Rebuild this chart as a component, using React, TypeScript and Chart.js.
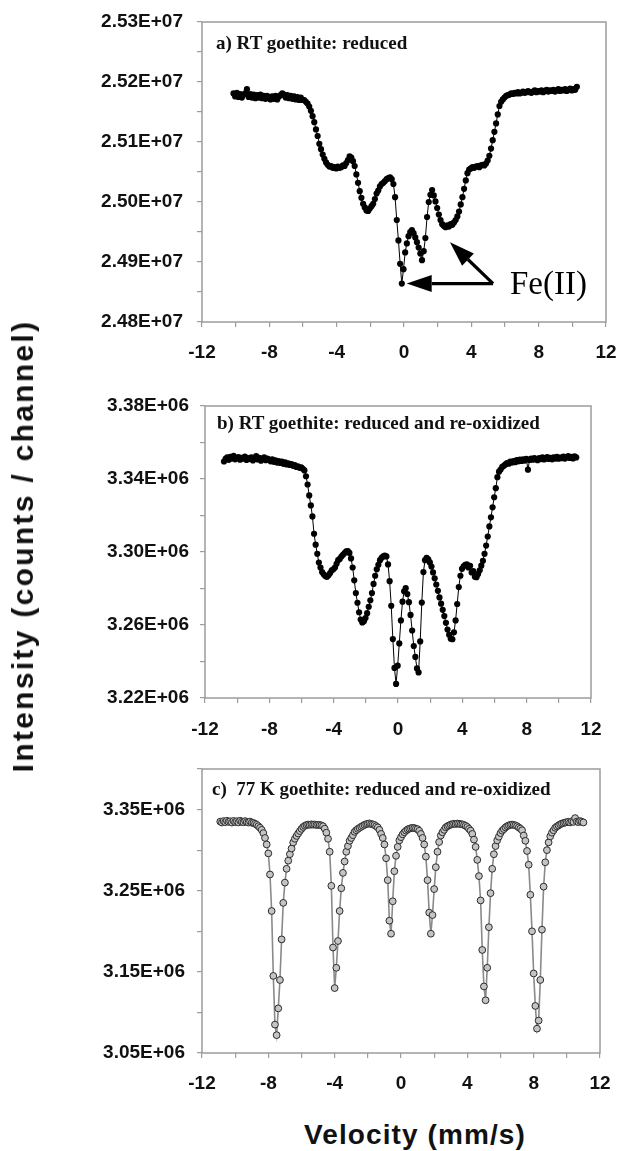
import React, { useEffect, useRef } from "react";
import { Chart, registerables } from "chart.js";

Chart.register(...registerables);

// ---------- Panel a) RT goethite: reduced  (intensity in units of 1E+07) ----------
const velocityA = [
  -10.13, -10.03, -9.93, -9.83, -9.73, -9.63, -9.53, -9.43, -9.33, -9.23,
  -9.13, -9.03, -8.93, -8.83, -8.73, -8.63, -8.53, -8.43, -8.33, -8.23,
  -8.13, -8.03, -7.93, -7.83, -7.73, -7.63, -7.53, -7.43, -7.33, -7.23,
  -7.13, -7.03, -6.93, -6.83, -6.73, -6.63, -6.53, -6.43, -6.33, -6.23,
  -6.13, -6.03, -5.93, -5.83, -5.73, -5.63, -5.53, -5.43, -5.33, -5.23,
  -5.13, -5.03, -4.93, -4.83, -4.73, -4.63, -4.53, -4.43, -4.33, -4.23,
  -4.13, -4.03, -3.93, -3.83, -3.73, -3.63, -3.53, -3.43, -3.33, -3.23,
  -3.13, -3.03, -2.93, -2.83, -2.73, -2.63, -2.53, -2.43, -2.33, -2.23,
  -2.13, -2.03, -1.93, -1.83, -1.73, -1.63, -1.53, -1.43, -1.33, -1.23,
  -1.13, -1.03, -0.93, -0.83, -0.73, -0.63, -0.53, -0.43, -0.33, -0.23,
  -0.13, -0.03, 0.07, 0.17, 0.27, 0.37, 0.47, 0.57, 0.67, 0.77,
  0.87, 0.97, 1.07, 1.17, 1.27, 1.37, 1.47, 1.57, 1.67, 1.77,
  1.87, 1.97, 2.07, 2.17, 2.27, 2.37, 2.47, 2.57, 2.67, 2.77,
  2.87, 2.97, 3.07, 3.17, 3.27, 3.37, 3.47, 3.57, 3.67, 3.77,
  3.87, 3.97, 4.07, 4.17, 4.27, 4.37, 4.47, 4.57, 4.67, 4.77,
  4.87, 4.97, 5.07, 5.17, 5.27, 5.37, 5.47, 5.57, 5.67, 5.77,
  5.87, 5.97, 6.07, 6.17, 6.27, 6.37, 6.47, 6.57, 6.67, 6.77,
  6.87, 6.97, 7.07, 7.17, 7.27, 7.37, 7.47, 7.57, 7.67, 7.77,
  7.87, 7.97, 8.07, 8.17, 8.27, 8.37, 8.47, 8.57, 8.67, 8.77,
  8.87, 8.97, 9.07, 9.17, 9.27, 9.37, 9.47, 9.57, 9.67, 9.77,
  9.87, 9.97, 10.07, 10.17, 10.27,
];
const intensityA = [
  2.5181, 2.5176, 2.5182, 2.5175, 2.5180, 2.5174, 2.5179, 2.5181, 2.5188, 2.5175,
  2.5180, 2.5174, 2.5179, 2.5173, 2.5178, 2.5174, 2.5179, 2.5173, 2.5177, 2.5172,
  2.5177, 2.5173, 2.5171, 2.5176, 2.5172, 2.5177, 2.5171, 2.5176, 2.5178, 2.5181,
  2.5179, 2.5174, 2.5178, 2.5173, 2.5177, 2.5172, 2.5176, 2.5171, 2.5175, 2.5170,
  2.5174, 2.5170, 2.5170, 2.5167, 2.5164, 2.5159, 2.5152, 2.5143, 2.5133, 2.5121,
  2.5110, 2.5097, 2.5088, 2.5079, 2.5072, 2.5066, 2.5062, 2.5059, 2.5060, 2.5057,
  2.5058, 2.5056, 2.5059, 2.5057, 2.5058, 2.5061, 2.5060, 2.5065, 2.5070, 2.5076,
  2.5074, 2.5068, 2.5060, 2.5046, 2.5032, 2.5018, 2.5007, 2.4997, 2.4991, 2.4986,
  2.4985, 2.4989, 2.4993, 2.4997, 2.5005, 2.5014, 2.5019, 2.5026, 2.5030, 2.5032,
  2.5035, 2.5038, 2.5040, 2.5041, 2.5038, 2.5030, 2.5008, 2.4970, 2.4936, 2.4897,
  2.4864, 2.4888, 2.4916, 2.4931, 2.4943, 2.4950, 2.4953, 2.4948, 2.4941, 2.4933,
  2.4924, 2.4914, 2.4903, 2.4918, 2.4940, 2.4975, 2.5000, 2.5012, 2.5020, 2.5011,
  2.5001, 2.4990, 2.4979, 2.4970, 2.4963, 2.4960, 2.4958, 2.4961, 2.4959, 2.4963,
  2.4962, 2.4966, 2.4970, 2.4976, 2.4984, 2.4996, 2.5008, 2.5022, 2.5036, 2.5048,
  2.5054, 2.5056, 2.5058, 2.5057, 2.5059, 2.5060, 2.5058, 2.5061, 2.5062, 2.5061,
  2.5064, 2.5069, 2.5077, 2.5089, 2.5103, 2.5117, 2.5131, 2.5146, 2.5160, 2.5167,
  2.5171, 2.5174, 2.5177, 2.5178, 2.5179, 2.5181, 2.5180, 2.5182, 2.5181, 2.5183,
  2.5181, 2.5182, 2.5184, 2.5182, 2.5183, 2.5185, 2.5183, 2.5182, 2.5184, 2.5186,
  2.5183, 2.5185, 2.5184, 2.5186, 2.5183, 2.5185, 2.5187, 2.5184, 2.5186, 2.5185,
  2.5187, 2.5184, 2.5186, 2.5188, 2.5185, 2.5187, 2.5186, 2.5188, 2.5185, 2.5187,
  2.5189, 2.5186, 2.5188, 2.5187, 2.5192,
];

// ---------- Panel b) RT goethite: reduced and re-oxidized (units of 1E+06) ----------
const velocityB = [
  -10.82, -10.72, -10.62, -10.52, -10.42, -10.32, -10.22, -10.12, -10.02, -9.92,
  -9.82, -9.72, -9.62, -9.52, -9.42, -9.32, -9.22, -9.12, -9.02, -8.92,
  -8.82, -8.72, -8.62, -8.52, -8.42, -8.32, -8.22, -8.12, -8.02, -7.92,
  -7.82, -7.72, -7.62, -7.52, -7.42, -7.32, -7.22, -7.12, -7.02, -6.92,
  -6.82, -6.72, -6.62, -6.52, -6.42, -6.32, -6.22, -6.12, -6.02, -5.92,
  -5.82, -5.72, -5.62, -5.52, -5.42, -5.32, -5.22, -5.12, -5.02, -4.92,
  -4.82, -4.72, -4.62, -4.52, -4.42, -4.32, -4.22, -4.12, -4.02, -3.92,
  -3.82, -3.72, -3.62, -3.52, -3.42, -3.32, -3.22, -3.12, -3.02, -2.92,
  -2.82, -2.72, -2.62, -2.52, -2.42, -2.32, -2.22, -2.12, -2.02, -1.92,
  -1.82, -1.72, -1.62, -1.52, -1.42, -1.32, -1.22, -1.12, -1.02, -0.92,
  -0.82, -0.72, -0.62, -0.52, -0.42, -0.32, -0.22, -0.12, -0.02, 0.08,
  0.18, 0.28, 0.38, 0.48, 0.58, 0.68, 0.78, 0.88, 0.98, 1.08,
  1.18, 1.28, 1.38, 1.48, 1.58, 1.68, 1.78, 1.88, 1.98, 2.08,
  2.18, 2.28, 2.38, 2.48, 2.58, 2.68, 2.78, 2.88, 2.98, 3.08,
  3.18, 3.28, 3.38, 3.48, 3.58, 3.68, 3.78, 3.88, 3.98, 4.08,
  4.18, 4.28, 4.38, 4.48, 4.58, 4.68, 4.78, 4.88, 4.98, 5.08,
  5.18, 5.28, 5.38, 5.48, 5.58, 5.68, 5.78, 5.88, 5.98, 6.08,
  6.18, 6.28, 6.38, 6.48, 6.58, 6.68, 6.78, 6.88, 6.98, 7.08,
  7.18, 7.28, 7.38, 7.48, 7.58, 7.68, 7.78, 7.88, 7.98, 8.08,
  8.18, 8.28, 8.38, 8.48, 8.58, 8.68, 8.78, 8.88, 8.98, 9.08,
  9.18, 9.28, 9.38, 9.48, 9.58, 9.68, 9.78, 9.88, 9.98, 10.08,
  10.18, 10.28, 10.38, 10.48, 10.58, 10.68, 10.78, 10.88, 10.98, 11.08,
];
const intensityB = [
  3.3496, 3.3510, 3.3518, 3.3505, 3.3522, 3.3512, 3.3527, 3.3508, 3.3515, 3.3520,
  3.3506, 3.3516, 3.3511, 3.3523, 3.3504, 3.3514, 3.3509, 3.3518, 3.3502, 3.3512,
  3.3525, 3.3507, 3.3516, 3.3500, 3.3511, 3.3519, 3.3503, 3.3512, 3.3506, 3.3497,
  3.3508, 3.3494, 3.3502, 3.3490, 3.3498, 3.3488, 3.3495, 3.3483, 3.3491, 3.3480,
  3.3486, 3.3477, 3.3482, 3.3472, 3.3476, 3.3466, 3.3470, 3.3461, 3.3464, 3.3456,
  3.3447, 3.3415, 3.3370, 3.3310, 3.3255, 3.3195, 3.3100, 3.3040, 3.2990, 3.2942,
  3.2915, 3.2890, 3.2878, 3.2868, 3.2864, 3.2872, 3.2885, 3.2900, 3.2905, 3.2915,
  3.2935, 3.2955, 3.2962, 3.2975, 3.2985, 3.2994, 3.3003, 3.3005, 3.2995, 3.2965,
  3.2915, 3.2845, 3.2775, 3.2722, 3.2670, 3.2630, 3.2614, 3.2620, 3.2638, 3.2665,
  3.2700, 3.2735, 3.2775, 3.2825, 3.2870, 3.2905, 3.2930, 3.2955, 3.2968, 3.2976,
  3.2980, 3.2976, 3.2932, 3.2840, 3.2705, 3.2523, 3.2365, 3.2277, 3.2377, 3.2499,
  3.2625, 3.2728, 3.2785, 3.2802, 3.2770, 3.2725, 3.2655, 3.2570, 3.2485, 3.2425,
  3.2362, 3.2340, 3.2510, 3.2723, 3.2890, 3.2955, 3.2968, 3.2960, 3.2943, 3.2920,
  3.2888, 3.2856, 3.2822, 3.2787, 3.2751, 3.2717, 3.2683, 3.2649, 3.2612, 3.2575,
  3.2546, 3.2525, 3.2522, 3.2560, 3.2625, 3.2715, 3.2808, 3.2870, 3.2908, 3.2922,
  3.2930, 3.2933, 3.2915, 3.2924, 3.2888, 3.2895, 3.2865, 3.2862, 3.2880, 3.2900,
  3.2925, 3.2952, 3.2990, 3.3035, 3.3085, 3.3140, 3.3190, 3.3245, 3.3300, 3.3350,
  3.3410, 3.3440, 3.3452, 3.3466, 3.3472, 3.3480, 3.3487, 3.3484, 3.3495, 3.3490,
  3.3498, 3.3492, 3.3503, 3.3497, 3.3506, 3.3499, 3.3508, 3.3501, 3.3510, 3.3451,
  3.3504, 3.3512, 3.3506, 3.3515, 3.3508, 3.3503, 3.3514, 3.3509, 3.3518, 3.3507,
  3.3513, 3.3520, 3.3510, 3.3516, 3.3508, 3.3519, 3.3512, 3.3522, 3.3511, 3.3517,
  3.3514, 3.3523, 3.3512, 3.3519, 3.3526, 3.3515, 3.3521, 3.3513, 3.3524, 3.3518,
];

// ---------- Panel c) 77 K goethite: reduced and re-oxidized (units of 1E+06) ----------
const velocityC = [
  -10.9, -10.8, -10.7, -10.6, -10.5, -10.4, -10.3, -10.2, -10.1, -10.0,
  -9.9, -9.8, -9.7, -9.6, -9.5, -9.4, -9.3, -9.2, -9.1, -9.0,
  -8.9, -8.8, -8.7, -8.6, -8.5, -8.4, -8.3, -8.2, -8.1, -8.0,
  -7.9, -7.8, -7.7, -7.6, -7.5, -7.4, -7.3, -7.2, -7.1, -7.0,
  -6.9, -6.8, -6.7, -6.6, -6.5, -6.4, -6.3, -6.2, -6.1, -6.0,
  -5.9, -5.8, -5.7, -5.6, -5.5, -5.4, -5.3, -5.2, -5.1, -5.0,
  -4.9, -4.8, -4.7, -4.6, -4.5, -4.4, -4.3, -4.2, -4.1, -4.0,
  -3.9, -3.8, -3.7, -3.6, -3.5, -3.4, -3.3, -3.2, -3.1, -3.0,
  -2.9, -2.8, -2.7, -2.6, -2.5, -2.4, -2.3, -2.2, -2.1, -2.0,
  -1.9, -1.8, -1.7, -1.6, -1.5, -1.4, -1.3, -1.2, -1.1, -1.0,
  -0.9, -0.8, -0.7, -0.6, -0.5, -0.4, -0.3, -0.2, -0.1, 0.0,
  0.1, 0.2, 0.3, 0.4, 0.5, 0.6, 0.7, 0.8, 0.9, 1.0,
  1.1, 1.2, 1.3, 1.4, 1.5, 1.6, 1.7, 1.8, 1.9, 2.0,
  2.1, 2.2, 2.3, 2.4, 2.5, 2.6, 2.7, 2.8, 2.9, 3.0,
  3.1, 3.2, 3.3, 3.4, 3.5, 3.6, 3.7, 3.8, 3.9, 4.0,
  4.1, 4.2, 4.3, 4.4, 4.5, 4.6, 4.7, 4.8, 4.9, 5.0,
  5.1, 5.2, 5.3, 5.4, 5.5, 5.6, 5.7, 5.8, 5.9, 6.0,
  6.1, 6.2, 6.3, 6.4, 6.5, 6.6, 6.7, 6.8, 6.9, 7.0,
  7.1, 7.2, 7.3, 7.4, 7.5, 7.6, 7.7, 7.8, 7.9, 8.0,
  8.1, 8.2, 8.3, 8.4, 8.5, 8.6, 8.7, 8.8, 8.9, 9.0,
  9.1, 9.2, 9.3, 9.4, 9.5, 9.6, 9.7, 9.8, 9.9, 10.0,
  10.1, 10.2, 10.3, 10.4, 10.5, 10.6, 10.7, 10.8, 10.9, 11.0,
];
const intensityC = [
  3.3352, 3.3340, 3.3358, 3.3345, 3.3362, 3.3348, 3.3355, 3.3340, 3.3360, 3.3346,
  3.3356, 3.3342, 3.3362, 3.3350, 3.3344, 3.3358, 3.3346, 3.3340, 3.3352, 3.3338,
  3.3335, 3.3325, 3.3312, 3.3295, 3.3275, 3.3250, 3.3210, 3.3150, 3.3070, 3.2960,
  3.2700, 3.2250, 3.1450, 3.0850, 3.0720, 3.1050, 3.1400, 3.1900, 3.2350, 3.2600,
  3.2770, 3.2870, 3.2950, 3.3020, 3.3095, 3.3140, 3.3175, 3.3205, 3.3235, 3.3262,
  3.3285, 3.3300, 3.3310, 3.3315, 3.3312, 3.3318, 3.3314, 3.3316, 3.3310, 3.3312,
  3.3310, 3.3305, 3.3295, 3.3265, 3.3215, 3.3140, 3.2980, 3.2560, 3.1800, 3.1300,
  3.1550, 3.1880, 3.2250, 3.2530, 3.2720, 3.2860, 3.2980, 3.3050, 3.3115, 3.3150,
  3.3185, 3.3225, 3.3245, 3.3262, 3.3275, 3.3288, 3.3300, 3.3312, 3.3320, 3.3325,
  3.3330, 3.3322, 3.3318, 3.3310, 3.3295, 3.3280, 3.3250, 3.3200, 3.3150, 3.3070,
  3.2900, 3.2630, 3.2130, 3.1970, 3.2370, 3.2740, 3.2930, 3.3040, 3.3120, 3.3160,
  3.3195, 3.3220, 3.3240, 3.3255, 3.3265, 3.3270, 3.3275, 3.3272, 3.3265, 3.3258,
  3.3238, 3.3200, 3.3150, 3.3070, 3.2920, 3.2630, 3.2230, 3.1970, 3.2200, 3.2520,
  3.2790, 3.2980, 3.3100, 3.3180, 3.3220, 3.3250, 3.3280, 3.3295, 3.3305, 3.3315,
  3.3320, 3.3325, 3.3322, 3.3328, 3.3325, 3.3320, 3.3318, 3.3310, 3.3300, 3.3285,
  3.3262, 3.3240, 3.3200, 3.3130, 3.3040, 3.2880, 3.2680, 3.2380, 3.1770, 3.1320,
  3.1150, 3.1550, 3.2050, 3.2470, 3.2770, 3.2950, 3.3050, 3.3120, 3.3165, 3.3210,
  3.3240, 3.3260, 3.3280, 3.3295, 3.3305, 3.3312, 3.3315, 3.3310, 3.3305, 3.3295,
  3.3280, 3.3265, 3.3245, 3.3180, 3.3115, 3.2990, 3.2820, 3.2450, 3.2000, 3.1480,
  3.1080, 3.0800, 3.0900, 3.1400, 3.2020, 3.2550, 3.2850, 3.3000, 3.3095, 3.3170,
  3.3215, 3.3245, 3.3275, 3.3292, 3.3305, 3.3318, 3.3328, 3.3334, 3.3340, 3.3345,
  3.3350, 3.3342, 3.3356, 3.3348, 3.3395, 3.3352, 3.3345, 3.3358, 3.3350, 3.3341,
];

// Fe(II) arrows in panel a (velocity, intensity ×1E+07)
const arrowVertexA = [5.29, 2.4864];
const arrowTipsA = [
  [0.16, 2.4864],
  [2.73, 2.4933],
];

const SANS = "'Liberation Sans', Arial, Helvetica, sans-serif";
const SERIF = "'Liberation Serif', 'Times New Roman', Times, serif";
const AXIS_GRAY = "#9c9c9c";

const boxPlugin = {
  id: "plotBox",
  beforeDatasetsDraw(chart: any) {
    const { ctx, chartArea: a } = chart;
    ctx.save();
    ctx.strokeStyle = AXIS_GRAY;
    ctx.lineWidth = 1.5;
    ctx.strokeRect(a.left, a.top, a.right - a.left, a.bottom - a.top);
    ctx.restore();
  },
};

function drawArrow(ctx: CanvasRenderingContext2D, x0: number, y0: number, x1: number, y1: number) {
  const headLen = 25;
  const headW = 8.5;
  const ang = Math.atan2(y1 - y0, x1 - x0);
  const bx = x1 - headLen * Math.cos(ang);
  const by = y1 - headLen * Math.sin(ang);
  ctx.beginPath();
  ctx.moveTo(x0, y0);
  ctx.lineTo(bx, by);
  ctx.stroke();
  ctx.beginPath();
  ctx.moveTo(x1, y1);
  ctx.lineTo(bx + headW * Math.sin(ang), by - headW * Math.cos(ang));
  ctx.lineTo(bx - headW * Math.sin(ang), by + headW * Math.cos(ang));
  ctx.closePath();
  ctx.fill();
}

const arrowPlugin = {
  id: "feArrows",
  afterDatasetsDraw(chart: any) {
    const { ctx } = chart;
    const xs = chart.scales.x;
    const ys = chart.scales.y;
    const vx = xs.getPixelForValue(arrowVertexA[0]);
    const vy = ys.getPixelForValue(arrowVertexA[1]);
    ctx.save();
    ctx.strokeStyle = "#000";
    ctx.fillStyle = "#000";
    ctx.lineWidth = 3.2;
    ctx.lineJoin = "miter";
    for (const t of arrowTipsA) {
      drawArrow(ctx, vx, vy, xs.getPixelForValue(t[0]), ys.getPixelForValue(t[1]));
    }
    ctx.restore();
  },
};

type PanelProps = {
  top: number;
  height: number;
  padTop: number;
  padRight: number;
  yWidth: number;
  xHeight: number;
  yLabelPad: number;
  xLabelPad: number;
  vel: number[];
  inten: number[];
  yMin: number;
  yMax: number;
  yStep: number;
  yLabel: (v: number) => string;
  hollow?: boolean;
  arrows?: boolean;
};

function Panel(p: PanelProps) {
  const ref = useRef<HTMLCanvasElement | null>(null);
  useEffect(() => {
    const canvas = ref.current;
    if (!canvas) return;
    const n = Math.min(p.vel.length, p.inten.length);
    const data = [] as { x: number; y: number }[];
    for (let i = 0; i < n; i++) data.push({ x: p.vel[i], y: p.inten[i] });
    const tickFont = { family: SANS, size: 19, weight: "bold" as const };
    const ds: any = p.hollow
      ? {
          data,
          showLine: true,
          borderColor: "#8a8a8a",
          borderWidth: 1.6,
          pointRadius: 3.4,
          pointBackgroundColor: "#c4c4c4",
          pointBorderColor: "#2b2b2b",
          pointBorderWidth: 1,
          tension: 0,
        }
      : {
          data,
          showLine: true,
          borderColor: "#000",
          borderWidth: 1,
          pointRadius: 3.1,
          pointBackgroundColor: "#000",
          pointBorderColor: "#000",
          pointBorderWidth: 0,
          tension: 0,
        };
    const chart = new Chart(canvas, {
      type: "scatter",
      data: { datasets: [ds] },
      options: {
        animation: false,
        responsive: false,
        maintainAspectRatio: false,
        devicePixelRatio: 1,
        events: [],
        layout: { padding: { top: p.padTop, right: p.padRight, left: 0, bottom: 0 } },
        plugins: { legend: { display: false }, tooltip: { enabled: false }, title: { display: false } },
        scales: {
          x: {
            type: "linear",
            min: -12,
            max: 12,
            ticks: {
              stepSize: 2,
              autoSkip: false,
              maxRotation: 0,
              minRotation: 0,
              padding: p.xLabelPad,
              color: "#111",
              font: tickFont,
              callback: (v: any) => {
                const k = Math.round(Number(v));
                return k % 4 === 0 ? String(k === 0 ? 0 : k) : "";
              },
            },
            grid: { drawOnChartArea: false, drawTicks: true, tickLength: 5, color: AXIS_GRAY, lineWidth: 1.2 },
            border: { display: false },
            afterFit: (s: any) => {
              s.height = p.xHeight;
              s.paddingLeft = 0;
              s.paddingRight = 0;
            },
          },
          y: {
            type: "linear",
            min: p.yMin,
            max: p.yMax,
            ticks: {
              stepSize: p.yStep,
              autoSkip: false,
              padding: p.yLabelPad,
              color: "#111",
              font: tickFont,
              callback: (v: any) => p.yLabel(Number(v)),
            },
            grid: { drawOnChartArea: false, drawTicks: true, tickLength: 5, color: AXIS_GRAY, lineWidth: 1.2 },
            border: { display: false },
            afterFit: (s: any) => {
              s.width = p.yWidth;
              s.paddingTop = 0;
              s.paddingBottom = 0;
            },
          },
        },
      } as any,
      plugins: p.arrows ? [boxPlugin, arrowPlugin] : [boxPlugin],
    });
    return () => chart.destroy();
  }, []);
  return (
    <canvas
      ref={ref}
      width={618}
      height={p.height}
      style={{ position: "absolute", left: 0, top: p.top, display: "block" }}
    />
  );
}

const labelA = (v: number) => {
  const r = Math.round(v * 1000);
  return r % 10 === 0 ? (r / 1000).toFixed(2) + "E+07" : "";
};
const labelB = (v: number) => {
  const r = Math.round(v * 100);
  return r % 4 === 2 ? (r / 100).toFixed(2) + "E+06" : "";
};
const labelC = (v: number) => {
  const r = Math.round(v * 100);
  return r % 10 === 5 ? (r / 100).toFixed(2) + "E+06" : "";
};

const titleStyle: React.CSSProperties = {
  position: "absolute",
  font: `bold 19px ${SERIF}`,
  lineHeight: "19px",
  color: "#111",
  whiteSpace: "pre",
};

export default function App() {
  return (
    <div
      style={{
        position: "absolute",
        left: 0,
        top: 0,
        width: 618,
        height: 1151,
        background: "#fff",
        overflow: "hidden",
      }}
    >
      <Panel
        top={0}
        height={370}
        padTop={22}
        padRight={12}
        yWidth={202}
        xHeight={48}
        yLabelPad={14}
        xLabelPad={14}
        vel={velocityA}
        inten={intensityA}
        yMin={2.48}
        yMax={2.53}
        yStep={0.005}
        yLabel={labelA}
        arrows
      />
      <Panel
        top={370}
        height={380}
        padTop={36}
        padRight={27}
        yWidth={205}
        xHeight={52}
        yLabelPad={11}
        xLabelPad={15}
        vel={velocityB}
        inten={intensityB}
        yMin={3.22}
        yMax={3.38}
        yStep={0.02}
        yLabel={labelB}
      />
      <Panel
        top={750}
        height={350}
        padTop={19}
        padRight={18}
        yWidth={202}
        xHeight={47}
        yLabelPad={12}
        xLabelPad={14}
        vel={velocityC}
        inten={intensityC}
        yMin={3.05}
        yMax={3.4}
        yStep={0.05}
        yLabel={labelC}
        hollow
      />
      <div style={{ ...titleStyle, left: 216, top: 33 }}>a) RT goethite: reduced</div>
      <div style={{ ...titleStyle, left: 217, top: 413 }}>b) RT goethite: reduced and re-oxidized</div>
      <div style={{ ...titleStyle, left: 212, top: 779 }}>c)  77 K goethite: reduced and re-oxidized</div>
      <div
        style={{
          position: "absolute",
          left: 510,
          top: 267,
          font: `33px ${SERIF}`,
          lineHeight: "33px",
          color: "#000",
          whiteSpace: "nowrap",
        }}
      >
        Fe(II)
      </div>
      <div
        style={{
          position: "absolute",
          left: 23,
          top: 546,
          transform: "translate(-50%, -50%) rotate(-90deg)",
          font: `bold 30px ${SANS}`,
          lineHeight: "30px",
          letterSpacing: "2.3px",
          color: "#111",
          whiteSpace: "nowrap",
        }}
      >
        Intensity (counts / channel)
      </div>
      <div
        style={{
          position: "absolute",
          left: 415,
          top: 1121,
          transform: "translateX(-50%)",
          font: `bold 28px ${SANS}`,
          lineHeight: "28px",
          letterSpacing: "1.1px",
          color: "#111",
          whiteSpace: "nowrap",
        }}
      >
        Velocity (mm/s)
      </div>
    </div>
  );
}
